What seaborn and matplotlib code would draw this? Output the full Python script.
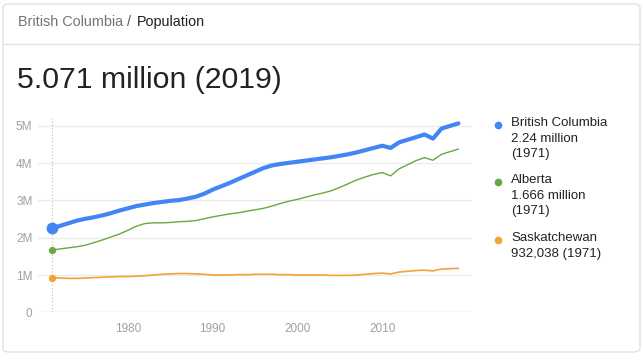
import pandas as pd
import matplotlib
import matplotlib.pyplot as plt
import seaborn as sns
from matplotlib.lines import Line2D
from matplotlib.patches import FancyBboxPatch

matplotlib.use('Agg')

years = list(range(1971, 2020))
bc = [2.25, 2.32, 2.39, 2.46, 2.51, 2.55, 2.60, 2.66, 2.73, 2.79,
      2.85, 2.89, 2.93, 2.96, 2.99, 3.01, 3.05, 3.10, 3.18, 3.29,
      3.38, 3.47, 3.57, 3.67, 3.77, 3.87, 3.94, 3.98, 4.01, 4.04,
      4.07, 4.10, 4.13, 4.16, 4.20, 4.24, 4.29, 4.35, 4.41, 4.47,
      4.41, 4.56, 4.63, 4.70, 4.77, 4.66, 4.93, 5.00, 5.07]
alberta = [1.67, 1.70, 1.73, 1.76, 1.80, 1.87, 1.94, 2.02, 2.10, 2.20,
           2.31, 2.38, 2.40, 2.40, 2.41, 2.43, 2.44, 2.46, 2.51, 2.56,
           2.60, 2.64, 2.67, 2.71, 2.75, 2.79, 2.85, 2.92, 2.98, 3.03,
           3.09, 3.15, 3.20, 3.26, 3.35, 3.45, 3.55, 3.63, 3.70, 3.75,
           3.66, 3.85, 3.96, 4.07, 4.15, 4.08, 4.24, 4.31, 4.38]
sask = [0.93, 0.92, 0.91, 0.91, 0.92, 0.93, 0.94, 0.95, 0.96, 0.96,
        0.97, 0.98, 1.00, 1.02, 1.03, 1.04, 1.04, 1.03, 1.02, 1.00,
        1.00, 1.00, 1.01, 1.01, 1.02, 1.02, 1.02, 1.01, 1.01, 1.00,
        1.00, 1.00, 1.00, 0.99, 0.99, 0.99, 1.00, 1.02, 1.04, 1.05,
        1.03, 1.08, 1.10, 1.12, 1.13, 1.11, 1.16, 1.17, 1.18]

regions = ["British Columbia", "Alberta", "Saskatchewan"]
first_labels = ["2.24 million\n(1971)", "1.666 million\n(1971)", "932,038 (1971)"]
colors = ["#4285f4", "#65a845", "#f4a233"]
widths = [3.0, 1.0, 1.2]
dot_sizes = [7.5, 4.2, 4.2]

df = pd.DataFrame({
    "year": years * 3,
    "pop": bc + alberta + sask,
    "region": [r for r in regions for _ in years],
})

sns.set_style("white")
plt.rcParams['font.family'] = ['Liberation Sans', 'DejaVu Sans']

fig = plt.figure(figsize=(6.43, 3.58), dpi=100)
ax = fig.add_axes([38 / 643, 1 - 312.3 / 358, (472 - 38) / 643, (312.3 - 117) / 358])

# card frame
fig.patches.append(FancyBboxPatch((3 / 643, 1 - 352 / 358), 637 / 643, 348 / 358,
                                  boxstyle="round,pad=0,rounding_size=0.01",
                                  transform=fig.transFigure, fill=False,
                                  edgecolor="#dfe1e5", linewidth=1))
fig.add_artist(Line2D([3 / 643, 640 / 643], [1 - 44 / 358] * 2, color="#e4e4e4", lw=1))

fig.text(18 / 643, 1 - 22 / 358, "British Columbia", color="#70757a", fontsize=10.4, va="center")
fig.text(127 / 643, 1 - 22 / 358, "/", color="#555555", fontsize=10.4, va="center")
fig.text(137 / 643, 1 - 22 / 358, "Population", color="#222222", fontsize=10.4, va="center")
fig.text(17 / 643, 1 - 80 / 358, "5.071 million (2019)", color="#222222", fontsize=21.8, va="center")

for y in range(1, 6):
    ax.axhline(y, color="#ebebeb", lw=1, zorder=0)
ax.axhline(0, color="#e0e0e0", lw=1, zorder=0)
ax.axvline(1971, color="#bdbdbd", lw=0.8, ls=(0, (1, 2)), zorder=0)

for region, color, w, s in zip(regions, colors, widths, dot_sizes):
    sub = df[df["region"] == region]
    sns.lineplot(data=sub, x="year", y="pop", color=color, linewidth=w, ax=ax,
                 legend=False, errorbar=None)
    ax.plot(sub["year"].iloc[0], sub["pop"].iloc[0], "o", color=color, ms=s, zorder=5)

ax.set_xlim(1969.4, 2020.6)
ax.set_ylim(0, 5.24)
ax.set_xticks([1980, 1990, 2000, 2010])
ax.set_yticks([0, 1, 2, 3, 4, 5])
ax.set_yticklabels(["0", "1M", "2M", "3M", "4M", "5M"])
ax.tick_params(axis="x", length=5, width=0.8, color="#e0e0e0", labelcolor="#a0a0a0", labelsize=8.5, pad=3)
ax.tick_params(axis="y", length=0, labelcolor="#a0a0a0", labelsize=8.5, pad=4)
ax.set_xlabel("")
ax.set_ylabel("")
sns.despine(ax=ax, left=True, bottom=True)

# legend
legend_y = [125, 182, 240]
for region, sub_label, color, y in zip(regions, first_labels, colors, legend_y):
    fig.add_artist(Line2D([498 / 643], [1 - y / 358], marker="o", ms=4.5, color=color, lw=0))
    fig.text(511 / 643, 1 - (y - 8) / 358, region + "\n" + sub_label, color="#222222",
             fontsize=9.5, va="top", linespacing=1.4)

plt.savefig("out.png", dpi=100)
plt.close()
